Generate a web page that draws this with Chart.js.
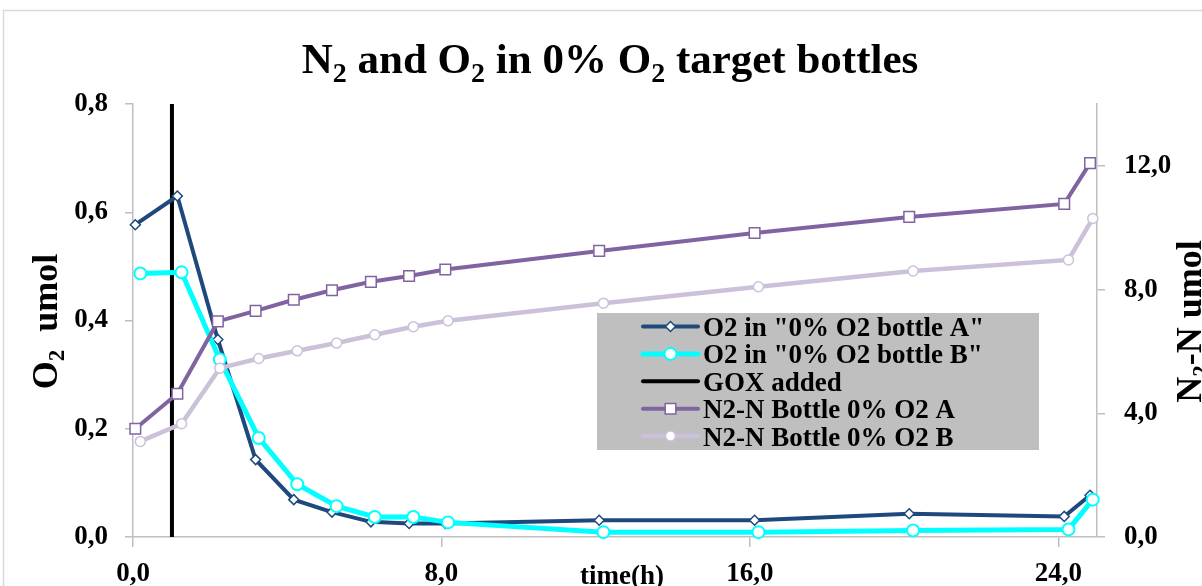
<!DOCTYPE html>
<html>
<head>
<meta charset="utf-8">
<script src="https://cdn.jsdelivr.net/npm/chart.js@4/dist/chart.umd.min.js"></script>
<style>
  html, body { margin: 0; padding: 0; background: #ffffff; }
  #wrap { position: relative; width: 1202px; height: 586px; overflow: hidden; }
  canvas { display: block; }
</style>
</head>
<body>
<div id="wrap"><canvas id="c" width="1202" height="586"></canvas></div>
<script>
// ---- Data ----
const timeA = [0.06, 1.15, 2.2, 3.18, 4.17, 5.16, 6.17, 7.16, 8.1, 12.09, 16.12, 20.13, 24.15, 24.82];
const timeB = [0.19, 1.26, 2.25, 3.26, 4.26, 5.28, 6.27, 7.27, 8.17, 12.2, 16.22, 20.23, 24.26, 24.89];
const o2BottleA = [0.577, 0.630, 0.365, 0.143, 0.069, 0.046, 0.028, 0.025, 0.025, 0.031, 0.031, 0.043, 0.038, 0.077];
const o2BottleB = [0.487, 0.489, 0.328, 0.183, 0.0975, 0.057, 0.037, 0.037, 0.027, 0.009, 0.009, 0.012, 0.014, 0.069];
const n2BottleA = [3.50, 4.63, 6.97, 7.31, 7.67, 7.98, 8.25, 8.44, 8.65, 9.25, 9.83, 10.35, 10.77, 12.09];
const n2BottleB = [3.09, 3.66, 5.46, 5.77, 6.02, 6.27, 6.54, 6.80, 6.99, 7.56, 8.09, 8.60, 8.96, 10.30];
const goxTime = [1.01, 1.01];
const goxLevel = [0, 0.8];
const seriesLabels = ['O2 in "0% O2 bottle A"', 'O2 in "0% O2 bottle B"', 'GOX added', 'N2-N Bottle 0% O2 A', 'N2-N Bottle 0% O2 B'];
const xTickValues = [0, 8, 16, 24];
const yLeftTickValues = [0, 0.2, 0.4, 0.6, 0.8];
const yRightTickValues = [0, 4, 8, 12];

const zip = (xs, ys) => xs.map((x, i) => ({ x: x, y: ys[i] }));
const comma = v => v.toFixed(1).replace('.', ',');

const SERIF = '"Liberation Serif", "Times New Roman", serif';
const AXIS_GRAY = '#bfbfbf';

const colors = {
  a: '#1f497d',
  b: '#00ffff',
  gox: '#000000',
  na: '#8064a2',
  nb: '#ccc1da'
};

const styles = [
  { color: colors.a, lineWidth: 4, pointStyle: 'rectRot', radius: 5, borderWidth: 1.5 },
  { color: colors.b, lineWidth: 5, pointStyle: 'circle', radius: 6, borderWidth: 2 },
  { color: colors.gox, lineWidth: 4, pointStyle: false, radius: 0, borderWidth: 0 },
  { color: colors.na, lineWidth: 4, pointStyle: 'rect', radius: 7.5, borderWidth: 1.5 },
  { color: colors.nb, lineWidth: 4.5, pointStyle: 'circle', radius: 5, borderWidth: 1.5 }
];

function mkDataset(idx, data, axis, order) {
  const s = styles[idx];
  return {
    label: seriesLabels[idx],
    data: data,
    yAxisID: axis,
    borderColor: s.color,
    backgroundColor: s.color,
    borderWidth: s.lineWidth,
    pointStyle: s.pointStyle || 'circle',
    pointRadius: s.radius,
    pointHoverRadius: s.radius,
    pointBorderWidth: s.borderWidth,
    pointBorderColor: s.color,
    pointBackgroundColor: '#ffffff',
    tension: 0,
    order: order,
    clip: false
  };
}

// Draw text with subscript parts
function richWidth(ctx, parts, size) {
  let w = 0;
  for (const p of parts) {
    ctx.font = 'bold ' + (p.sub ? Math.round(size * 0.65) : size) + 'px ' + SERIF;
    w += ctx.measureText(p.t).width;
  }
  return w;
}
function drawRich(ctx, parts, cx, baseY, size) {
  const total = richWidth(ctx, parts, size);
  let x = cx - total / 2;
  ctx.textAlign = 'left';
  ctx.textBaseline = 'alphabetic';
  for (const p of parts) {
    const fs = p.sub ? Math.round(size * 0.65) : size;
    ctx.font = 'bold ' + fs + 'px ' + SERIF;
    ctx.fillText(p.t, x, baseY + (p.sub ? size * 0.2 : 0));
    x += ctx.measureText(p.t).width;
  }
}

const decorPlugin = {
  id: 'decor',
  beforeDraw(chart) {
    const ctx = chart.ctx;
    ctx.save();
    ctx.fillStyle = '#ffffff';
    ctx.fillRect(0, 0, chart.width, chart.height);
    ctx.strokeStyle = '#d9d9d9';
    ctx.lineWidth = 1.5;
    ctx.strokeRect(3.5, 10.5, 1260, 640);
    ctx.restore();
  },
  afterDatasetsDraw(chart) {
    const ctx = chart.ctx;
    ctx.save();
    ctx.fillStyle = '#000000';
    // Title
    drawRich(ctx, [
      { t: 'N' }, { t: '2', sub: true }, { t: ' and O' }, { t: '2', sub: true },
      { t: ' in 0% O' }, { t: '2', sub: true }, { t: ' target bottles' }
    ], 610, 73, 43);

    // Left axis title (rotated)
    ctx.save();
    ctx.translate(57, 321.5);
    ctx.rotate(-Math.PI / 2);
    drawRich(ctx, [{ t: 'O' }, { t: '2', sub: true }, { t: '  umol' }], 0, 0, 36);
    ctx.restore();

    // Right axis title (rotated)
    ctx.save();
    ctx.translate(1201, 321.5);
    ctx.rotate(-Math.PI / 2);
    drawRich(ctx, [{ t: 'N' }, { t: '2', sub: true }, { t: '-N umol' }], 0, 0, 36);
    ctx.restore();

    // x axis title, sitting on the tick label row
    ctx.font = 'bold 27px ' + SERIF;
    ctx.textAlign = 'center';
    ctx.textBaseline = 'alphabetic';
    ctx.fillText('time(h)', 622, 584);

    // Legend
    const bx = 597, by = 313, bw = 442, bh = 137;
    ctx.fillStyle = '#bfbfbf';
    ctx.fillRect(bx, by, bw, bh);
    for (let i = 0; i < seriesLabels.length; i++) {
      const s = styles[i];
      const ry = 326.5 + i * 27.4;
      ctx.beginPath();
      ctx.strokeStyle = s.color;
      ctx.lineWidth = s.lineWidth;
      ctx.lineCap = 'round';
      ctx.moveTo(643, ry);
      ctx.lineTo(698, ry);
      ctx.stroke();
      if (s.pointStyle) {
        ctx.fillStyle = '#ffffff';
        ctx.strokeStyle = s.color;
        ctx.lineWidth = s.borderWidth;
        ctx.lineCap = 'butt';
        Chart.helpers.drawPoint(ctx, {
          pointStyle: s.pointStyle, radius: s.radius, rotation: 0, borderWidth: s.borderWidth
        }, 670.5, ry);
      }
      ctx.fillStyle = '#000000';
      ctx.font = 'bold 27px ' + SERIF;
      ctx.textAlign = 'left';
      ctx.textBaseline = 'alphabetic';
      ctx.fillText(seriesLabels[i], 703, ry + 9.5);
    }
    ctx.restore();
  }
};

const tickFont = { family: SERIF, size: 27, weight: 'bold' };

new Chart(document.getElementById('c'), {
  type: 'line',
  data: {
    datasets: [
      mkDataset(0, zip(timeA, o2BottleA), 'y', 2),
      mkDataset(1, zip(timeB, o2BottleB), 'y', 1),
      mkDataset(2, zip(goxTime, goxLevel), 'y', 3),
      mkDataset(3, zip(timeA, n2BottleA), 'y2', 0),
      mkDataset(4, zip(timeB, n2BottleB), 'y2', 0)
    ]
  },
  options: {
    responsive: false,
    animation: false,
    devicePixelRatio: 1,
    layout: { padding: { top: 104, left: 0, right: 0, bottom: 0 } },
    plugins: {
      legend: { display: false },
      title: { display: false },
      tooltip: { enabled: false }
    },
    scales: {
      x: {
        type: 'linear',
        position: 'bottom',
        min: 0,
        max: 25,
        afterBuildTicks: s => { s.ticks = xTickValues.map(v => ({ value: v })); },
        afterFit: s => { s.height = 49; },
        grid: { display: true, drawOnChartArea: false, drawTicks: true, tickLength: 10, color: AXIS_GRAY, lineWidth: 1.5 },
        border: { display: true, color: AXIS_GRAY, width: 1.5 },
        ticks: { font: tickFont, color: '#000000', padding: 11, maxRotation: 0, callback: v => comma(v) }
      },
      y: {
        type: 'linear',
        position: 'left',
        min: 0,
        max: 0.8,
        afterBuildTicks: s => { s.ticks = yLeftTickValues.map(v => ({ value: v })); },
        afterFit: s => { s.width = 133; },
        grid: { display: true, drawOnChartArea: false, drawTicks: true, tickLength: 8, color: AXIS_GRAY, lineWidth: 1.5 },
        border: { display: true, color: AXIS_GRAY, width: 1.5 },
        ticks: { font: tickFont, color: '#000000', padding: 17, callback: v => comma(v) }
      },
      y2: {
        type: 'linear',
        position: 'right',
        min: 0,
        max: 14,
        afterBuildTicks: s => { s.ticks = yRightTickValues.map(v => ({ value: v })); },
        afterFit: s => { s.width = 105; },
        grid: { display: true, drawOnChartArea: false, drawTicks: true, tickLength: 8, color: AXIS_GRAY, lineWidth: 1.5 },
        border: { display: true, color: AXIS_GRAY, width: 1.5 },
        ticks: { font: tickFont, color: '#000000', padding: 19, callback: v => comma(v) }
      }
    }
  },
  plugins: [decorPlugin]
});
</script>
</body>
</html>
